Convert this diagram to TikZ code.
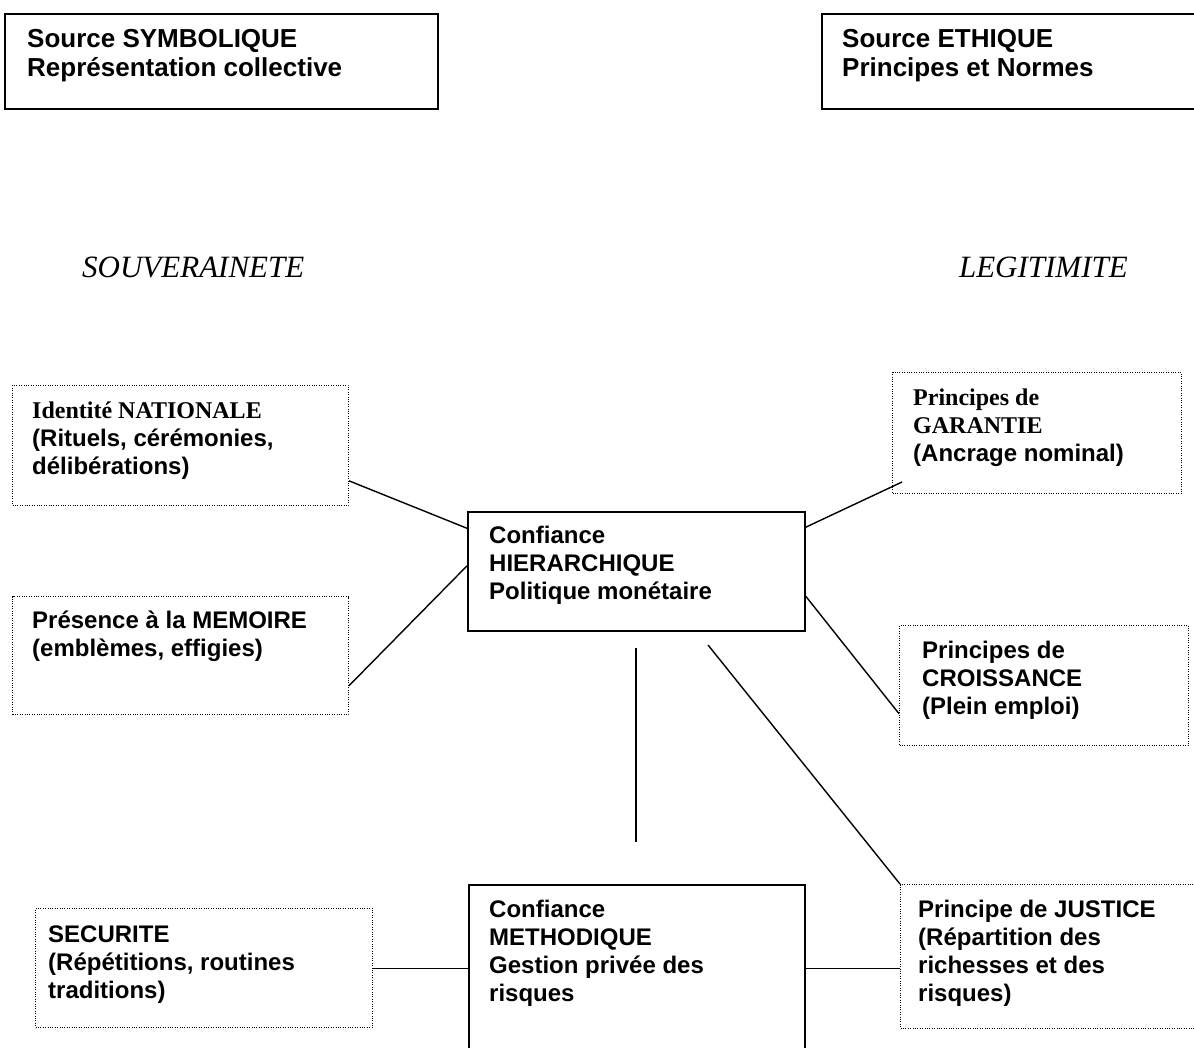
\documentclass[tikz,border=0pt]{standalone}
\usepackage{fontspec}
\setmainfont{Liberation Serif}
\setsansfont{Liberation Sans}
\usetikzlibrary{calc}
\begin{document}
\begin{tikzpicture}[x=1pt,y=-1pt,
  solidbox/.style={draw, line width=1.8pt, inner sep=0pt, anchor=north west},
  dotbox/.style={draw, line width=1pt, dash pattern=on 1pt off 1.4pt, inner sep=0pt, anchor=north west},
  txt/.style={anchor=north west, inner sep=0pt, align=left, font=\sffamily\bfseries\fontsize{24}{28}\selectfont},
  bigtxt/.style={anchor=north west, inner sep=0pt, align=left, font=\sffamily\bfseries\fontsize{26}{29}\selectfont},
  lbl/.style={inner sep=0pt, font=\rmfamily\itshape\fontsize{31}{36}\selectfont},
  link/.style={line width=1.4pt}]
\useasboundingbox (0,0) rectangle (1194,1048);
\clip (0,0) rectangle (1194,1048);

% top sources
\node[solidbox, minimum width=433pt, minimum height=95pt] (sym) at (4,13) {};
\node[bigtxt] (symT) at (27,26.7) {\strut Source SYMBOLIQUE\\Représentation collective};
\node[solidbox, minimum width=420pt, minimum height=95pt] (eth) at (821,13) {};
\node[bigtxt] (ethT) at (842,26.7) {\strut Source ETHIQUE\\Principes et Normes};

% labels
\node[lbl, anchor=base west] (souv) at (82,278) {SOUVERAINETE};
\node[lbl, anchor=base east] (legi) at (1128,278) {LEGITIMITE};

% left dotted boxes
\node[dotbox, minimum width=336pt, minimum height=120pt] (iden) at (12,385) {};
\node[txt] (idenT) at (32,398.4) {\strut{\rmfamily Identité NATIONALE}\\(Rituels, cérémonies,\\délibérations)};
\node[dotbox, minimum width=336pt, minimum height=118pt] (pres) at (12,596) {};
\node[txt] (presT) at (32,608.4) {\strut Présence à la MEMOIRE\\(emblèmes, effigies)};

% center box
\node[solidbox, minimum width=337pt, minimum height=119pt] (cen) at (467,511) {};
\node[txt] (cenT) at (489,523.4) {\strut Confiance\\HIERARCHIQUE\\Politique monétaire};

% right dotted boxes
\node[dotbox, minimum width=289pt, minimum height=121pt] (gar) at (892,372) {};
\node[txt] (garT) at (913,385.4) {\strut{\rmfamily Principes de}\\{\rmfamily GARANTIE}\\(Ancrage nominal)};
\node[dotbox, minimum width=289pt, minimum height=120pt] (cro) at (899,625) {};
\node[txt] (croT) at (922,638.4) {\strut Principes de\\CROISSANCE\\(Plein emploi)};

% bottom row
\node[dotbox, minimum width=337pt, minimum height=119pt] (sec) at (35,908) {};
\node[txt] (secT) at (48,922.4) {\strut SECURITE\\(Répétitions, routines\\traditions)};
\node[solidbox, minimum width=336pt, minimum height=250pt] (meth) at (468,884) {};
\node[txt] (methT) at (489,897.4) {\strut Confiance\\METHODIQUE\\Gestion privée des\\risques};
\node[dotbox, minimum width=330pt, minimum height=144pt] (jus) at (900,884) {};
\node[txt] (jusT) at (918,897.4) {\strut Principe de JUSTICE\\(Répartition des\\richesses et des\\risques)};

% connectors
\draw[link] ($(iden.north east)!0.792!(iden.south east)$) -- ($(cen.north west)!0.143!(cen.south west)$);
\draw[link] ($(pres.north east)!0.754!(pres.south east)$) -- ($(cen.north west)!0.454!(cen.south west)$);
\draw[link] ($(cen.north east)!0.134!(cen.south east)$) -- ($(gar.south west)+(10,-12)$);
\draw[link] ($(cen.north east)!0.706!(cen.south east)$) -- ($(cro.north west)!0.733!(cro.south west)$);
\coordinate (vtop) at (636,648);
\coordinate (vbot) at (636,842);
\draw[link] (vtop) -- (vbot);
\coordinate (dstart) at (708,645);
\draw[link] (dstart) -- (jus.north west);
\draw[link] ($(sec.north east)!0.504!(sec.south east)$) coordinate (sa) -- (sa -| meth.west);
\draw[link] ($(jus.north west)!0.583!(jus.south west)$) coordinate (ja) -- (ja -| meth.east);
\end{tikzpicture}
\end{document}
